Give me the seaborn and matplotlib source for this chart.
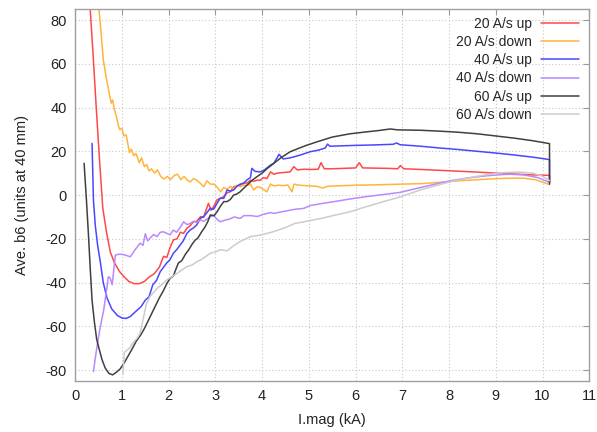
import pandas as pd
import matplotlib
matplotlib.use('Agg')
import matplotlib.pyplot as plt
import seaborn as sns

# 20 A/s up
x_20up = [0.30, 0.38, 0.45, 0.52, 0.59, 0.67, 0.75, 0.84, 0.95, 1.05,
          1.15, 1.26, 1.37, 1.48, 1.58, 1.69, 1.80, 1.89, 1.96, 2.03,
          2.10, 2.18, 2.25, 2.32, 2.39, 2.46, 2.53, 2.60, 2.68, 2.75,
          2.85, 2.91, 2.97, 3.03, 3.10, 3.18, 3.25, 3.32, 3.39, 3.46,
          3.53, 3.60, 3.68, 3.75, 3.82, 3.89, 3.96, 4.03, 4.10, 4.18,
          4.25, 4.32, 4.46, 4.60, 4.68, 4.75, 4.90, 5.05, 5.20, 5.26,
          5.33, 5.50, 5.75, 6.00, 6.08, 6.15, 6.40, 6.70, 6.90, 6.96,
          7.03, 7.40, 7.80, 8.20, 8.60, 9.00, 9.40, 9.80, 10.15, 10.15]
y_20up = [92, 65, 40, 16, -6, -17, -26, -31, -35, -37.5,
          -39.5, -40.5, -40.5, -39.5, -37.5, -36, -33, -28, -28.5, -24,
          -20.5, -20, -17, -17.5, -15.2, -14, -12.2, -12, -9.9, -10,
          -3.8, -7, -5, -2.3, -1.5, -0.7, 1, 1.5, 3.8, 4,
          4.5, 5.5, 5.5, 6.8, 6.3, 6.8, 6.8, 8, 7.5, 10.6,
          9.5, 10, 10.3, 10.6, 13, 11.5, 11.8, 11.7, 11.8, 14.8,
          12, 12, 12.2, 12.4, 14.8, 12.4, 12.3, 12.2, 12, 13.5,
          12, 11.7, 11.3, 10.9, 10.5, 10, 9.6, 9.2, 9, 6]

# 20 A/s down
x_20dn = [0.48, 0.55, 0.60, 0.66, 0.70, 0.74, 0.77, 0.80, 0.84, 0.88,
          0.92, 0.95, 1.00, 1.04, 1.09, 1.13, 1.16, 1.20, 1.25, 1.30,
          1.37, 1.42, 1.48, 1.53, 1.58, 1.63, 1.70, 1.76, 1.83, 1.90,
          1.97, 2.04, 2.12, 2.19, 2.26, 2.33, 2.40, 2.46, 2.53, 2.60,
          2.67, 2.75, 2.82, 2.89, 2.97, 3.04, 3.11, 3.18, 3.25, 3.32,
          3.39, 3.46, 3.53, 3.60, 3.68, 3.75, 3.82, 3.89, 3.96, 4.03,
          4.10, 4.18, 4.25, 4.35, 4.45, 4.55, 4.64, 4.68, 4.80, 5.00,
          5.17, 5.30, 5.40, 5.60, 6.00, 6.50, 7.00, 7.40, 7.80, 8.20,
          8.60, 9.00, 9.30, 9.60, 9.85, 10.15]
y_20dn = [92, 75, 62, 54, 49.7, 45, 42, 43.5, 39, 36,
          32, 30, 30.5, 27, 27.5, 23, 19.4, 21, 18, 19,
          14.8, 17, 13, 14, 11, 12, 10, 11.5, 8.5, 7.3,
          8.5, 7, 9, 9.5, 7, 8.5, 6.8, 6, 7.5, 6.8,
          5.5, 3.8, 6.5, 5, 5, 3.5, 1.5, 3.5, 2.5, 4,
          3, 4.5, 3.8, 4.5, 4.5, 5, 2.3, 3.8, 3.5, 2.5,
          1.5, 5, 4.2, 4.5, 4.3, 4.6, 1.5, 5, 4.5, 4.2,
          4, 3.2, 4, 4.2, 4.5, 4.7, 5, 5.2, 5.8, 6.5,
          7, 7.5, 7.7, 7.7, 7, 4.8]

# 40 A/s up
x_40up = [0.36, 0.39, 0.43, 0.48, 0.54, 0.60, 0.68, 0.78, 0.90, 1.00,
          1.09, 1.18, 1.28, 1.41, 1.50, 1.58, 1.66, 1.74, 1.82, 1.89,
          1.96, 2.03, 2.10, 2.17, 2.24, 2.31, 2.39, 2.46, 2.53, 2.60,
          2.68, 2.75, 2.82, 2.89, 2.96, 3.03, 3.10, 3.18, 3.25, 3.32,
          3.39, 3.46, 3.53, 3.60, 3.68, 3.75, 3.78, 3.85, 3.96, 4.05,
          4.18, 4.25, 4.32, 4.36, 4.45, 4.60, 4.82, 5.03, 5.20, 5.35,
          5.40, 5.45, 5.70, 6.00, 6.40, 6.80, 6.88, 6.95, 7.40, 7.80,
          8.20, 8.60, 9.00, 9.40, 9.80, 10.15, 10.15]
y_40up = [23.6, -2.3, -14, -23, -31, -40, -47, -52, -55, -56.2,
          -56.4, -55.5, -53.5, -51, -48, -46.5, -41, -39, -35, -33,
          -31, -29.5, -26.6, -25, -23, -21, -17.5, -16, -15, -13.7,
          -10.6, -9.9, -8, -6, -6.5, -4, -1.5, -1.5, 2.3, 1.8,
          2.3, 4, 5, 5.3, 7, 8, 12.2, 10.8, 10.6, 11.5,
          13.7, 14.5, 17, 18.6, 16.5, 17, 18.3, 19.8, 20.5, 21.5,
          23.3, 22.3, 22.5, 22.7, 22.9, 23.2, 23.8, 23, 22.3, 21.5,
          20.8, 20, 19.2, 18.3, 17.3, 16.2, 6]

# 40 A/s down
x_40dn = [0.39, 0.44, 0.49, 0.54, 0.61, 0.66, 0.71, 0.75, 0.79, 0.86,
          0.95, 1.05, 1.18, 1.28, 1.39, 1.45, 1.50, 1.55, 1.61, 1.68,
          1.75, 1.82, 1.89, 1.96, 2.03, 2.10, 2.17, 2.24, 2.32, 2.39,
          2.46, 2.53, 2.60, 2.68, 2.75, 2.82, 2.89, 2.96, 3.03, 3.10,
          3.20, 3.30, 3.40, 3.53, 3.61, 3.75, 3.90, 4.00, 4.18, 4.25,
          4.46, 4.70, 4.89, 5.03, 5.30, 5.60, 5.88, 6.20, 6.50, 6.95,
          7.40, 8.02, 8.40, 8.80, 9.10, 9.30, 9.60, 9.90, 10.15]
y_40dn = [-80.7, -73, -66, -60, -52.5, -45, -37.3, -38, -41, -27.4,
          -27, -27.3, -28.2, -25, -22, -23, -17.7, -21, -19.5, -18,
          -19, -17, -16.8, -17.5, -18.2, -16, -17, -15, -12.2, -13.5,
          -13, -12, -12.5, -11.4, -12, -11, -10, -9.1, -11, -12.2,
          -11.5, -11, -10, -10.7, -9.4, -9.4, -9.8, -9, -8, -8.4,
          -7.5, -6.5, -6.1, -4.8, -3.8, -2.8, -1.8, -0.8, 0, 1.2,
          3.5, 6.5, 7.8, 8.8, 9.3, 9.5, 9.2, 8, 5.8]

# 60 A/s up
x_60up = [0.19, 0.24, 0.28, 0.32, 0.36, 0.41, 0.46, 0.52, 0.57, 0.64,
          0.72, 0.80, 0.88, 0.96, 1.04, 1.12, 1.20, 1.30, 1.40, 1.48,
          1.56, 1.64, 1.72, 1.80, 1.88, 1.96, 2.03, 2.10, 2.17, 2.21,
          2.28, 2.36, 2.43, 2.50, 2.57, 2.62, 2.70, 2.78, 2.84, 2.89,
          2.97, 3.04, 3.11, 3.18, 3.25, 3.32, 3.39, 3.46, 3.53, 3.60,
          3.70, 3.80, 3.89, 4.00, 4.10, 4.25, 4.40, 4.60, 4.80, 4.96,
          5.20, 5.50, 5.88, 6.20, 6.50, 6.74, 6.90, 7.40, 7.80, 8.20,
          8.60, 9.00, 9.40, 9.80, 10.15, 10.15]
y_60up = [14.5, -2.3, -17, -33, -48, -58, -66, -71, -75, -79,
          -81.5, -82.2, -81, -79.5, -77, -74, -71, -67, -64, -61,
          -57.5, -54, -50.5, -47, -44, -40.5, -38, -37, -33, -31,
          -30, -27, -25, -22.5, -20.5, -19.8, -17, -14.5, -12, -9.1,
          -9.5, -7.5, -5, -3, -3, -2, 0, 0.5, 1.5, 3,
          5, 7, 8.4, 10, 12, 14.5, 17, 19.8, 21.5, 22.8,
          24.5, 26.5, 28, 28.8, 29.5, 30.2, 29.8, 29.6, 29.2, 28.7,
          28, 27, 26, 24.8, 23.5, 5]

# 60 A/s down
x_60dn = [1.02, 1.05, 1.10, 1.16, 1.22, 1.28, 1.34, 1.39, 1.45, 1.52,
          1.60, 1.68, 1.76, 1.85, 1.96, 2.05, 2.18, 2.30, 2.39, 2.50,
          2.60, 2.70, 2.80, 2.89, 3.00, 3.10, 3.25, 3.40, 3.55, 3.75,
          3.96, 4.20, 4.46, 4.70, 5.00, 5.30, 5.60, 5.89, 6.20, 6.50,
          6.96, 7.41, 8.03, 8.40, 8.80, 9.20, 9.50, 9.80, 10.00, 10.15]
y_60dn = [-82, -72, -71, -70, -68, -66.5, -65, -63, -57, -50,
          -46.4, -44.5, -42.5, -41, -38.8, -37.5, -35.8, -34, -32.7, -32,
          -30.5, -29.5, -28, -26.6, -26, -25, -25.5, -23, -21, -19,
          -18.3, -17, -15.2, -13, -11.8, -10.5, -9, -7.6, -5.5, -3.6,
          -0.8, 2.5, 6.1, 7.8, 9.3, 10.3, 10.5, 10, 8.6, 6.6]

series = ['20 A/s up', '20 A/s down', '40 A/s up', '40 A/s down', '60 A/s up', '60 A/s down']
xs = [x_20up, x_20dn, x_40up, x_40dn, x_60up, x_60dn]
ys = [y_20up, y_20dn, y_40up, y_40dn, y_60up, y_60dn]
colors = ['#ff4848', '#ffb43c', '#4848ff', '#bb88ff', '#404040', '#cccccc']

rows = []
for name, xv, yv in zip(series, xs, ys):
    for a, b in zip(xv, yv):
        rows.append((name, a, b))
df = pd.DataFrame(rows, columns=['series', 'imag', 'b6'])

sns.set_style('white')
plt.rcParams['font.family'] = ['Liberation Sans', 'DejaVu Sans']
plt.rcParams['axes.unicode_minus'] = False

fig, ax = plt.subplots(figsize=(5.97, 4.32), dpi=100)
fig.subplots_adjust(left=0.126, right=0.987, bottom=0.118, top=0.979)

sns.lineplot(data=df, x='imag', y='b6', hue='series', hue_order=series,
             palette=dict(zip(series, colors)), estimator=None, sort=False,
             linewidth=1.1, ax=ax)

ax.set_xlim(0, 11)
ax.set_ylim(-85, 85)
ax.set_xticks(range(0, 12))
ax.set_yticks(range(-80, 81, 20))
ax.grid(True, linestyle=(0, (1, 2)), color='#c8c8c8', linewidth=0.8)
ax.tick_params(direction='in', top=True, right=True, length=4,
               color='#999999', labelsize=10.5, labelcolor='#222222', pad=6)
for s in ax.spines.values():
    s.set_color('#a0a0a0')
    s.set_linewidth(1)
ax.set_xlabel('I.mag (kA)', fontsize=10.5, color='#222222', labelpad=7)
ax.set_ylabel('Ave. b6 (units at 40 mm)', fontsize=10.5, color='#222222', labelpad=12)

h, l = ax.get_legend_handles_labels()
ax.legend(h, l, loc='upper right', bbox_to_anchor=(0.98, 0.979), frameon=False,
          markerfirst=False, fontsize=10, handlelength=2.7, handletextpad=0.7,
          labelspacing=0.3, borderpad=0, borderaxespad=0)

fig.savefig('out.png', dpi=100)
